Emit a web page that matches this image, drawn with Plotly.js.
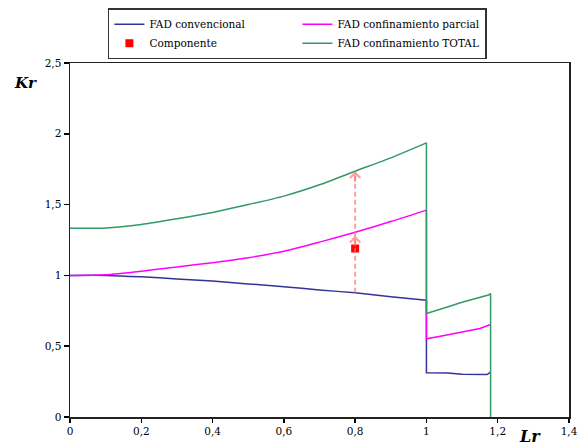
<!DOCTYPE html>
<html>
<head>
<meta charset="utf-8">
<script src="https://cdn.plot.ly/plotly-3.0.1.min.js"></script>
<style>html,body{margin:0;padding:0;background:#fff;}#chart{width:586px;height:447px;}</style>
</head>
<body>
<div id="chart"></div>
<script>
// FAD convencional (curve up to Lr = 1, then drop and tail)
const convX1 = [0, 0.1, 0.2, 0.3, 0.4, 0.5, 0.6, 0.7, 0.8, 0.9, 1.0];
const convY1 = [1.0, 1.0, 0.99, 0.975, 0.96, 0.94, 0.92, 0.897, 0.877, 0.85, 0.825];
const convX2 = [1.0, 1.0, 1.06, 1.10, 1.17, 1.18];
const convY2 = [0.825, 0.312, 0.31, 0.302, 0.300, 0.317];
// FAD confinamiento parcial
const parcX1 = [0, 0.1, 0.2, 0.3, 0.4, 0.5, 0.6, 0.7, 0.8, 0.9, 1.0];
const parcY1 = [1.0, 1.005, 1.03, 1.06, 1.09, 1.125, 1.17, 1.235, 1.305, 1.38, 1.461];
const parcX2 = [1.0, 1.0, 1.05, 1.10, 1.15, 1.18];
const parcY2 = [1.461, 0.552, 0.575, 0.60, 0.625, 0.653];
// FAD confinamiento TOTAL
const totX1 = [0, 0.1, 0.2, 0.3, 0.4, 0.5, 0.6, 0.7, 0.8, 0.9, 1.0];
const totY1 = [1.333, 1.335, 1.36, 1.40, 1.445, 1.50, 1.56, 1.64, 1.736, 1.83, 1.936];
const totX2 = [1.0, 1.0, 1.05, 1.10, 1.174, 1.18, 1.18];
const totY2 = [1.936, 0.731, 0.77, 0.81, 0.862, 0.872, 0];
// Componente
const compX = [0.8];
const compY = [1.19];

const xTicks = [0, 0.2, 0.4, 0.6, 0.8, 1, 1.2, 1.4];
const yTicks = [0, 0.5, 1, 1.5, 2, 2.5];

const serif = '"DejaVu Serif", "Liberation Serif", serif';

const ax = compX[0];
const yBlue = convY1[convX1.indexOf(ax)];
const yPink = parcY1[parcX1.indexOf(ax)];
const yGreen = totY1[totX1.indexOf(ax)];
const arrowCol = 'rgba(255,110,110,0.65)';

const C_BLUE = '#333399', C_PINK = '#ff00ff', C_GREEN = '#339966';

const traces = [
  {x: convX1, y: convY1, mode: 'lines', name: 'FAD convencional', legendgroup: 'a', line: {color: C_BLUE, width: 1.5, shape: 'spline', smoothing: 0.6}, legendrank: 1},
  {x: convX2, y: convY2, mode: 'lines', name: 'FAD convencional', legendgroup: 'a', showlegend: false, line: {color: C_BLUE, width: 1.5}},
  {x: parcX1, y: parcY1, mode: 'lines', name: 'FAD confinamiento parcial', legendgroup: 'b', line: {color: C_PINK, width: 1.5, shape: 'spline', smoothing: 0.6}, legendrank: 2},
  {x: parcX2, y: parcY2, mode: 'lines', name: 'FAD confinamiento parcial', legendgroup: 'b', showlegend: false, line: {color: C_PINK, width: 1.5}},
  {x: totX1, y: totY1, mode: 'lines', name: 'FAD confinamiento TOTAL', legendgroup: 'c', line: {color: C_GREEN, width: 1.5, shape: 'spline', smoothing: 0.6}, legendrank: 4},
  {x: totX2, y: totY2, mode: 'lines', name: 'FAD confinamiento TOTAL', legendgroup: 'c', showlegend: false, line: {color: C_GREEN, width: 1.5}},
  {x: compX, y: compY, mode: 'markers', name: 'Componente', legendgroup: 'd', marker: {symbol: 'square', color: '#ff0000', size: 8}, legendrank: 3}
];

const layout = {
  width: 586, height: 447,
  margin: {l: 70, r: 17, t: 63, b: 30, autoexpand: false},
  paper_bgcolor: '#fff', plot_bgcolor: '#fff',
  separators: ', ',
  font: {family: serif, size: 10.5, color: '#000'},
  showlegend: true,
  legend: {
    orientation: 'h', x: 0.076, xanchor: 'left', y: 1.155, yanchor: 'top',
    entrywidth: 143, entrywidthmode: 'pixels',
    bordercolor: '#333', borderwidth: 1.5, bgcolor: '#fff',
    font: {family: serif, size: 10.5, color: '#000'},
    traceorder: 'normal', tracegroupgap: 0
  },
  xaxis: {
    range: [0, 1.4], tickvals: xTicks, ticks: 'outside', ticklen: 4, tickwidth: 1.5, tickcolor: '#000',
    showgrid: false, zeroline: false, showline: true, linecolor: '#222', linewidth: 1.5, mirror: true,
    tickfont: {family: serif, size: 10.5}, fixedrange: true, automargin: false
  },
  yaxis: {
    range: [0, 2.5], tickvals: yTicks, ticks: 'outside', ticklen: 5, tickwidth: 1.5, tickcolor: '#000',
    showgrid: false, zeroline: false, showline: true, linecolor: '#222', linewidth: 1.5, mirror: true,
    tickfont: {family: serif, size: 10.5}, fixedrange: true, automargin: false
  },
  shapes: [
    {type: 'line', xref: 'x', yref: 'y', x0: ax, x1: ax, y0: yBlue, y1: yGreen,
     line: {color: arrowCol, width: 2, dash: '5px,3px'}}
  ],
  annotations: [
    {x: ax, y: yGreen, xref: 'x', yref: 'y', text: '', showarrow: true, ax: 0, ay: 12,
     arrowhead: 4, arrowsize: 1, arrowwidth: 2, arrowcolor: arrowCol},
    {x: ax, y: yPink - 0.025, xref: 'x', yref: 'y', text: '', showarrow: true, ax: 0, ay: 12,
     arrowhead: 4, arrowsize: 1, arrowwidth: 2, arrowcolor: arrowCol},
    {x: 25, y: 83, xref: 'paper', yref: 'paper', xanchor: 'center', yanchor: 'middle', text: '<b><i>Kr</i></b>', showarrow: false,
     font: {family: serif, size: 15}},
    {x: 530, y: 436, xref: 'paper', yref: 'paper', xanchor: 'center', yanchor: 'middle', text: '<b><i>Lr</i></b>', showarrow: false,
     font: {family: serif, size: 16}}
  ]
};

// convert pixel positions of the axis-title annotations to paper coords
const plotW = layout.width - layout.margin.l - layout.margin.r;
const plotH = layout.height - layout.margin.t - layout.margin.b;
layout.annotations.slice(2).forEach(a => {
  a.x = (a.x - layout.margin.l) / plotW;
  a.y = (layout.height - layout.margin.b - a.y) / plotH;
});

Plotly.newPlot('chart', traces, layout, {displayModeBar: false, staticPlot: true});
</script>
</body>
</html>
